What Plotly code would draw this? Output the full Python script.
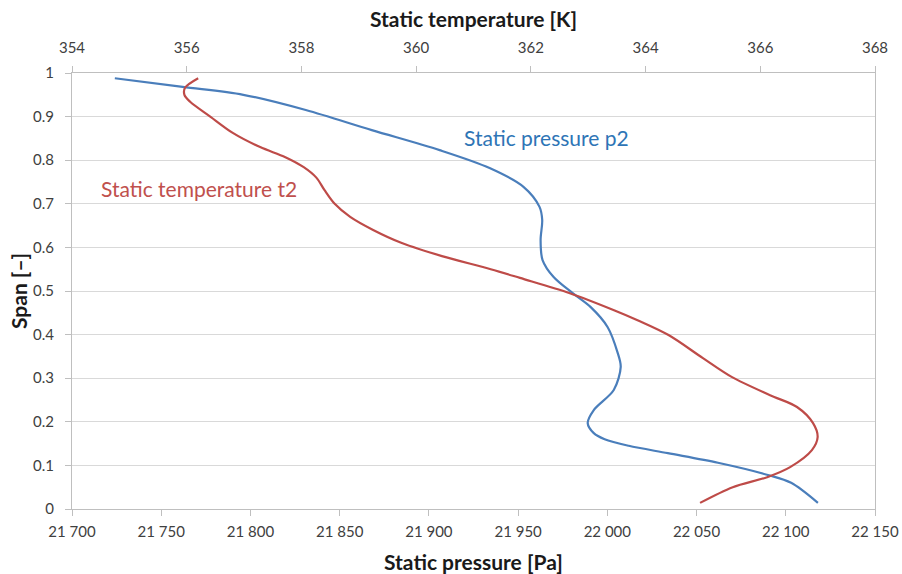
import plotly.graph_objects as go

# Static pressure p2 (bottom axis, Pa) vs span
p2_span = [0.988, 0.968, 0.950, 0.915, 0.869, 0.823, 0.782, 0.739, 0.693, 0.663,
           0.617, 0.571, 0.532, 0.495, 0.463, 0.417, 0.358, 0.326, 0.273, 0.227,
           0.197, 0.174, 0.160, 0.145, 0.128, 0.106, 0.078, 0.060, 0.014]
p2_pa = [21724, 21762, 21796, 21831, 21868, 21906, 21934, 21953, 21962, 21963.5,
         21962.6, 21963.7, 21969.9, 21980.6, 21990.7, 22000.2, 22005.8, 22007.5, 22003.6, 21992.4,
         21989, 21992.4, 21998.5, 22012, 22033.9, 22062, 22090, 22103, 22118]

# Static temperature t2 (top axis, K) vs span
t2_span = [0.988, 0.966, 0.950, 0.934, 0.900, 0.862, 0.830, 0.807, 0.784, 0.760,
           0.732, 0.700, 0.670, 0.640, 0.610, 0.580, 0.550, 0.530, 0.495, 0.456,
           0.433, 0.399, 0.346, 0.303, 0.261, 0.234, 0.197, 0.165, 0.135, 0.096,
           0.073, 0.050, 0.014]
t2_k = [356.2, 355.97, 355.96, 356.06, 356.41, 356.81, 357.28, 357.72, 358.04, 358.26,
        358.40, 358.58, 358.85, 359.25, 359.75, 360.45, 361.3, 361.81, 362.68, 363.45,
        363.86, 364.4, 365.0, 365.5, 366.17, 366.64, 366.92, 367.0, 366.9, 366.52,
        366.12, 365.52, 364.95]

p_ticks = list(range(21700, 22151, 50))
p_ticktext = [f"{v:,}".replace(",", " ") for v in p_ticks]
t_ticks = list(range(354, 369, 2))

blue = "#4a7ebb"
red = "#be4b48"
font_family = "Lato, Open Sans, sans-serif"
tick_color = "#404040"
axis_line = "#bfbfbf"
title_color = "#1a1a1a"

fig = go.Figure()
fig.add_trace(go.Scatter(x=p2_pa, y=p2_span, mode="lines", name="Static pressure p2",
                         line=dict(color=blue, width=2.2, shape="spline", smoothing=0.9),
                         xaxis="x", yaxis="y"))
fig.add_trace(go.Scatter(x=t2_k, y=t2_span, mode="lines", name="Static temperature t2",
                         line=dict(color=red, width=2.2, shape="spline", smoothing=0.9),
                         xaxis="x2", yaxis="y"))

fig.update_layout(
    width=902, height=574,
    margin=dict(l=72, r=27, t=73, b=65, autoexpand=False),
    paper_bgcolor="white", plot_bgcolor="white",
    showlegend=False,
    font=dict(family=font_family, color=tick_color, size=15),
    xaxis=dict(range=[21700, 22150], tickvals=p_ticks, ticktext=p_ticktext,
               showgrid=False, zeroline=False, showline=True, linecolor=axis_line, linewidth=1,
               ticks="outside", ticklen=6, tickcolor=axis_line, automargin=False,
               ticklabelstandoff=3,
               tickfont=dict(size=15, color=tick_color)),
    xaxis2=dict(range=[354, 368], tickvals=t_ticks, overlaying="x", side="top",
                showgrid=False, zeroline=False, showline=True, linecolor=axis_line, linewidth=1,
                ticks="outside", ticklen=6, tickcolor=axis_line, automargin=False,
                ticklabelstandoff=7,
                tickfont=dict(size=15, color=tick_color)),
    yaxis=dict(range=[0, 1], dtick=0.1, tick0=0,
               showgrid=True, gridcolor="#d9d9d9", gridwidth=1, zeroline=False,
               showline=True, mirror=True, linecolor=axis_line, linewidth=1,
               ticks="outside", ticklen=6, tickcolor=axis_line, automargin=False,
               ticklabelstandoff=8,
               tickfont=dict(size=15, color=tick_color)),
    annotations=[
        dict(x=0.5, y=(509 - 18) / 436, xref="paper", yref="paper", text="<b>Static temperature [K]</b>",
             xanchor="center", yanchor="middle",
             showarrow=False, font=dict(size=21, color=title_color, family=font_family)),
        dict(x=0.5, y=(509 - 561) / 436, xref="paper", yref="paper", text="<b>Static pressure [Pa]</b>",
             xanchor="center", yanchor="middle",
             showarrow=False, font=dict(size=21, color=title_color, family=font_family)),
        dict(x=(18 - 72) / 803, y=0.5, xref="paper", yref="paper", text="<b>Span [\u2013]</b>",
             xanchor="center", yanchor="middle",
             textangle=-90, showarrow=False, font=dict(size=21, color=title_color, family=font_family)),
        dict(x=21966, y=0.851, xref="x", yref="y", text="Static pressure p2", showarrow=False,
             xanchor="center", yanchor="middle",
             font=dict(size=21, color="#2e75b6", family=font_family)),
        dict(x=21771, y=0.736, xref="x", yref="y", text="Static temperature t2", showarrow=False,
             xanchor="center", yanchor="middle",
             font=dict(size=21, color="#c0504d", family=font_family)),
    ],
)

fig.write_html("out.html", config={"displayModeBar": False},
               post_script="document.body.style.margin='0px';")
